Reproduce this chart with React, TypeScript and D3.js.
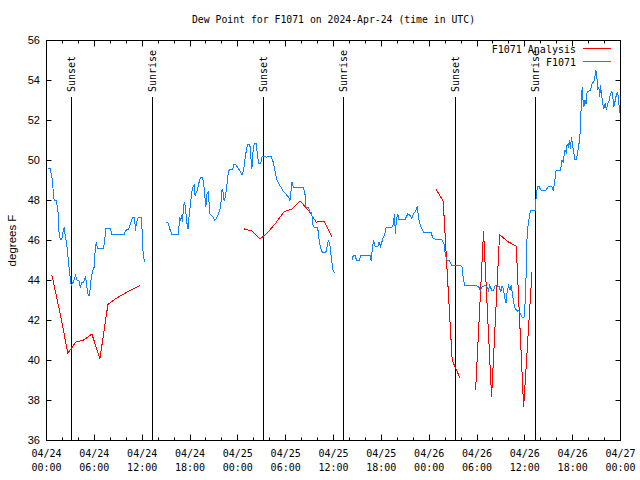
import React from "react";
import * as d3 from "d3";

const TITLE = "Dew Point for F1071 on 2024-Apr-24 (time in UTC)";
const Y_LABEL = "degrees F";
const START_UTC = Date.UTC(2024, 3, 24, 0, 0);
const END_UTC = Date.UTC(2024, 3, 27, 0, 0);
const yTickValues = [36, 38, 40, 42, 44, 46, 48, 50, 52, 54, 56];
const legendLabels = ["F1071 Analysis", "F1071"];

// Observed dew point (hours since 2024-04-24 00:00 UTC), NaN = gap
const obsHours = [
  0.13, 0.54, 0.55, 0.67, 0.79, 0.88, 0.97, 1.22, 1.34, 1.47, 1.55, 1.72, 1.92, 2.05, 2.22, 2.35, 2.55, 2.68, 2.8, 2.98,
  3.1, 3.3, 3.64, 3.86, 4.06, 4.23, 4.4, 4.65, 4.9, 4.99, 5.15, 5.24, 5.4, 5.57, 5.78, 5.99, 6.03, 6.12, 6.25, 6.41,
  7.16, 7.38, 7.45, 8.0, 8.21, 9.76, 9.93, 10.3, 10.59, 10.81, 11.02, 11.18, 11.27, 11.52, 11.9, 11.97, 12.1, 12.28,
  13.0,
  14.95, 15.24, 15.46, 15.74, 16.5, 16.59, 16.71, 16.84, 16.96, 17.05, 17.21, 17.34, 17.47, 17.63, 17.75, 17.88, 18.06,
  18.22, 18.38, 18.56, 18.63, 18.81, 18.97, 19.14, 19.31, 19.56, 19.73, 19.89, 19.98, 20.14, 20.27, 20.39, 20.48, 20.7,
  20.9, 21.07, 21.32, 21.65, 21.83, 21.95, 22.03, 22.15, 22.28, 22.45, 22.71, 22.83, 22.99, 23.33, 23.5, 23.75, 24.04,
  24.29, 24.54, 24.75, 24.88, 25.09, 25.26, 25.51, 25.63, 25.76, 25.92, 26.05, 26.3, 26.43, 26.6, 26.85, 27.02, 27.36,
  27.61, 28.18, 28.44, 28.65, 28.86, 29.06, 29.28, 29.53, 29.78, 30.12, 30.37, 30.53, 30.79, 30.95, 32.21, 32.42, 32.55,
  32.83, 33.05, 33.26, 33.39, 33.55, 34.01, 34.22, 34.47, 34.68, 35.02, 35.19, 35.35, 35.56, 35.77, 35.9, 36.1,
  37.0,
  38.29, 38.49, 38.7, 38.91, 39.2, 39.42, 40.59, 40.71, 40.8, 40.93, 41.05, 41.21, 41.55, 41.72, 41.88, 42.06, 42.26,
  42.47, 42.6, 43.31, 43.51, 43.64, 43.77, 43.89, 44.07, 44.23, 44.98, 45.15, 45.32, 45.61, 45.83, 46.03, 46.24, 46.4,
  46.49, 46.66, 46.83, 47.08, 47.28, 48.25, 48.41, 48.54, 49.6, 49.88, 50.01, 50.22, 50.51, 50.85, 51.89, 52.11, 52.23,
  52.44, 53.87, 54.2, 54.41, 54.62, 55.04, 55.25, 55.45, 55.58, 55.88, 56.08, 56.29, 56.8, 56.96, 57.14, 57.3, 57.46,
  57.64, 57.8, 57.96, 58.14, 58.3, 58.47, 58.64, 58.81, 59.06, 59.22, 59.43, 59.65, 59.9, 60.06, 60.19, 60.28, 60.4,
  60.69, 61.32, 61.36, 61.45, 61.61, 61.78, 62.04, 62.58, 62.79, 62.99, 63.37, 63.54, 63.71, 63.83, 63.92, 64.46, 64.55,
  64.67, 64.8, 64.88, 65.05, 65.21, 65.3, 65.46, 65.59, 65.72, 65.84, 65.97, 66.13, 66.26, 66.47, 66.63, 66.76, 66.85,
  66.94, 67.01, 67.1, 67.19, 67.26, 67.39, 67.56, 67.69, 67.81, 68.02, 68.23, 68.36, 68.48, 68.65, 68.82, 68.9, 69.02,
  69.15, 69.28, 69.4, 69.49, 69.65, 69.78, 69.9, 70.08, 70.24, 70.4, 70.58, 70.74, 70.91, 71.04, 71.16, 71.34, 71.5,
  71.66, 71.79, 71.92, 72.0,
];
const obsDewF = [
  49.58, 49.58, 49.4, 49.2, 48.75, 48.25, 48.0, 48.0, 47.75, 47.35, 46.5, 46.05, 46.05, 46.4, 46.67, 46.25, 45.75, 45.25,
  44.75, 44.1, 43.75, 43.87, 44.25, 44.0, 44.0, 43.65, 43.9, 43.9, 44.2, 43.9, 43.42, 43.25, 43.25, 44.0, 44.5, 44.67,
  45.0, 45.58, 45.92, 45.58, 45.58, 46.33, 46.58, 46.58, 46.3, 46.3, 46.5, 46.58, 46.9, 47.17, 47.17, 46.5, 46.9, 47.17,
  47.17, 46.67, 45.5, 44.92,
  NaN,
  46.88, 46.88, 46.58, 46.3, 46.3, 46.55, 47.17, 47.0, 47.25, 46.95, 47.75, 47.92, 47.42, 46.83, 46.58, 47.17, 47.83,
  48.42, 48.67, 48.83, 48.25, 48.42, 48.58, 48.92, 49.17, 49.17, 48.83, 48.08, 47.67, 48.33, 48.42, 47.92, 47.33, 47.25,
  47.17, 47.0, 47.1, 47.42, 47.67, 48.17, 48.58, 48.42, 48.0, 48.17, 49.08, 49.5, 49.53, 49.53, 49.78, 49.78, 49.62,
  49.47, 49.28, 49.58, 50.0, 50.58, 50.8, 50.8, 50.17, 49.58, 50.5, 50.83, 50.83, 50.42, 49.83, 49.83, 50.17, 50.2,
  50.17, 50.2, 49.92, 49.5, 49.08, 48.92, 48.75, 48.58, 48.42, 48.28, 48.17, 47.97, 48.92, 48.67, 48.67, 48.33, 47.67,
  47.67, 47.42, 47.42, 46.83, 46.67, 46.67, 45.92, 45.5, 45.38, 45.38, 45.67, 46.03, 45.75, 45.0, 44.58, 44.38,
  NaN,
  45.0, 45.25, 45.25, 45.0, 45.0, 45.25, 45.25, 45.0, 45.33, 45.75, 46.0, 45.7, 45.7, 45.92, 45.7, 45.92, 46.17, 46.37,
  46.67, 46.67, 46.83, 47.33, 46.33, 47.08, 47.3, 47.03, 47.03, 47.2, 47.33, 47.25, 47.08, 47.33, 47.42, 47.55, 47.7,
  47.17, 46.83, 46.58, 46.42, 46.42, 46.17, 46.08, 46.05, 45.8, 45.33, 45.03, 45.0, 44.75, 44.75, 44.7, 44.25, 43.75,
  43.75, 43.7, 43.5, 43.67, 43.75, 43.7, 43.5, 43.75, 43.5, 43.5, 43.75, 43.7, 43.42, 43.7, 43.6, 43.17, 42.87, 43.5,
  43.75, 43.55, 43.75, 43.25, 42.83, 42.58, 42.47, 42.5, 42.33, 42.17, 42.17, 43.0, 44.67, 46.17, 46.75, 47.5, 47.5,
  47.83, 48.33, 48.7, 48.7, 48.5, 48.5, 48.6, 48.7, 48.7, 48.5, 48.83, 49.25, 49.5, 49.5, 49.7, 50.03, 49.9, 50.17,
  50.53, 50.4, 50.83, 50.7, 51.0, 50.6, 51.17, 50.83, 50.42, 50.03, 50.03, 50.42, 50.75, 51.0, 51.42, 52.08, 53.0,
  53.67, 53.17, 52.67, 53.03, 52.83, 53.42, 53.47, 53.5, 53.75, 53.87, 53.92, 54.25, 54.53, 54.25, 53.58, 53.67,
  53.17, 53.75, 53.25, 52.83, 52.58, 52.87, 52.53, 52.83, 53.0, 53.33, 53.47, 53.17, 52.67, 53.0, 53.33, 53.42, 52.83,
  52.42, 52.28,
];

// Analysis dew point (hours since 2024-04-24 00:00 UTC), NaN = gap
const anaHours = [
  0.67, 1.67, 2.68, 3.68, 4.69, 5.69, 6.7, 7.7, 8.71, 9.71, 10.72, 11.75,
  18.0,
  24.79, 25.79, 26.8, 27.8, 28.81, 29.81, 30.82, 31.82, 32.83, 33.83, 34.84, 35.85,
  42.0,
  48.84, 49.76, 50.89, 51.86,
  52.8,
  53.82, 54.82, 55.83, 56.83, 57.84, 58.92, 59.85, 60.9,
];
const anaDewF = [
  44.28, 42.43, 40.37, 40.92, 41.03, 41.33, 40.08, 42.8, 43.1, 43.33, 43.55, 43.75,
  NaN,
  46.58, 46.47, 46.08, 46.42, 46.9, 47.45, 47.58, 47.97, 47.52, 46.92, 46.95, 46.15,
  NaN,
  48.58, 47.97, 40.0, 39.13,
  NaN,
  38.5, 46.45, 38.17, 46.3, 45.95, 45.72, 37.67, 44.42,
];

// Sun events (hours since 2024-04-24 00:00 UTC)
const sunLabels = ["Sunset", "Sunrise", "Sunset", "Sunrise", "Sunset", "Sunrise"];
const sunHours = [3.08, 13.28, 27.18, 37.23, 51.31, 61.36];

const RED = "#ff0000";
const BLUE = "#0a84ff";
const MONO = "'DejaVu Sans Mono', 'Liberation Mono', monospace";
const SANS = "'Liberation Sans', Arial, sans-serif";

type Pt = { t: Date; v: number };

export default function App() {
  const W = 640;
  const H = 480;
  const left = 46.5;
  const right = 620.5;
  const top = 40.5;
  const bottom = 440.5;

  const toDate = (h: number) => new Date(START_UTC + h * 3600000);
  const x = d3.scaleUtc().domain([new Date(START_UTC), new Date(END_UTC)]).range([left, right]);
  const y = d3.scaleLinear().domain([36, 56]).range([bottom, top]);

  const obs: Pt[] = obsHours.map((h, i) => ({ t: toDate(h), v: obsDewF[i] }));
  const ana: Pt[] = anaHours.map((h, i) => ({ t: toDate(h), v: anaDewF[i] }));
  const line = d3
    .line<Pt>()
    .defined((d) => !isNaN(d.v))
    .x((d) => x(d.t))
    .y((d) => y(d.v));

  const majorTicks = x.ticks(d3.utcHour.every(6)!);
  const minorTicks = x.ticks(d3.utcHour.every(2)!).filter((d) => d.getUTCHours() % 6 !== 0);
  const fmtDay = d3.utcFormat("%m/%d");
  const fmtTime = d3.utcFormat("%H:%M");
  const snap = (v: number) => Math.round(v - 0.5) + 0.5;

  return (
    <svg
      width={W}
      height={H}
      style={{ position: "absolute", left: 0, top: 0, background: "#fff" }}
      xmlns="http://www.w3.org/2000/svg"
    >
      <rect x={0} y={0} width={W} height={H} fill="#fff" />
      <text x={(left + right) / 2} y={20} dy="0.35em" textAnchor="middle" fontFamily={MONO} fontSize={9.8} fill="#000">
        {TITLE}
      </text>

      {/* y ticks */}
      {yTickValues.map((v) => (
        <g key={"y" + v}>
          <line x1={left} x2={left + 5} y1={snap(y(v))} y2={snap(y(v))} stroke="#000" />
          <line x1={right - 5} x2={right} y1={snap(y(v))} y2={snap(y(v))} stroke="#000" />
          <text x={40} y={y(v)} dy="0.35em" textAnchor="end" fontFamily={SANS} fontSize={11} fill="#000">
            {v}
          </text>
        </g>
      ))}

      {/* x ticks */}
      {majorTicks.map((d, i) => (
        <g key={"xm" + i}>
          <line x1={snap(x(d))} x2={snap(x(d))} y1={bottom} y2={bottom - 6} stroke="#000" />
          <line x1={snap(x(d))} x2={snap(x(d))} y1={top} y2={top + 6} stroke="#000" />
          <text x={x(d)} y={453} dy="0.35em" textAnchor="middle" fontFamily={MONO} fontSize={10} fill="#000">
            {fmtDay(d)}
          </text>
          <text x={x(d)} y={467} dy="0.35em" textAnchor="middle" fontFamily={MONO} fontSize={10} fill="#000">
            {fmtTime(d)}
          </text>
        </g>
      ))}
      {minorTicks.map((d, i) => (
        <g key={"xn" + i}>
          <line x1={snap(x(d))} x2={snap(x(d))} y1={bottom} y2={bottom - 3} stroke="#000" />
          <line x1={snap(x(d))} x2={snap(x(d))} y1={top} y2={top + 3} stroke="#000" />
        </g>
      ))}

      <text
        transform={`translate(12,${(top + bottom) / 2}) rotate(-90)`}
        dy="0.35em"
        textAnchor="middle"
        fontFamily={SANS}
        fontSize={11.5}
        fill="#000"
      >
        {Y_LABEL}
      </text>

      {/* sun events */}
      {sunHours.map((h, i) => {
        const xx = snap(x(toDate(h)));
        return (
          <g key={"s" + i}>
            <line x1={xx} x2={xx} y1={97} y2={bottom} stroke="#000" strokeWidth={1} />
            <text
              transform={`translate(${xx},92) rotate(-90)`}
              dy="0.35em"
              textAnchor="start"
              fontFamily={MONO}
              fontSize={10}
              fill="#000"
            >
              {sunLabels[i]}
            </text>
          </g>
        );
      })}

      {/* series */}
      <path d={line(ana) ?? ""} fill="none" stroke={RED} strokeWidth={1} shapeRendering="crispEdges" />
      <path d={line(obs) ?? ""} fill="none" stroke={BLUE} strokeWidth={1} shapeRendering="crispEdges" />

      {/* legend */}
      {legendLabels.map((lab, i) => (
        <g key={"l" + i}>
          <text x={576} y={49 + i * 13} dy="0.35em" textAnchor="end" fontFamily={MONO} fontSize={10} fill="#000">
            {lab}
          </text>
          <line x1={583} x2={611} y1={48.5 + i * 13} y2={48.5 + i * 13} stroke={i === 0 ? RED : BLUE} />
        </g>
      ))}

      {/* frame */}
      <rect x={left} y={top} width={right - left} height={bottom - top} fill="none" stroke="#000" />
    </svg>
  );
}
